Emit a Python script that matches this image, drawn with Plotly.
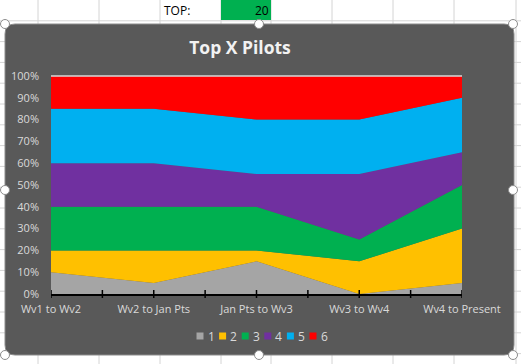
import plotly.graph_objects as go

# ---- data ----
categories = ["Wv1 to Wv2", "Wv2 to Jan Pts", "Jan Pts to Wv3", "Wv3 to Wv4", "Wv4 to Present"]
series_names = ["1", "2", "3", "4", "5", "6"]
s1 = [2, 1, 3, 0, 1]
s2 = [2, 3, 1, 3, 5]
s3 = [4, 4, 4, 2, 4]
s4 = [4, 4, 3, 6, 3]
s5 = [5, 5, 5, 5, 5]
s6 = [3, 3, 4, 4, 2]
series_values = [s1, s2, s3, s4, s5, s6]
colors = ["#A5A5A5", "#FFC000", "#00B050", "#7030A0", "#00B0F0", "#FF0000"]
y_ticks = [0, 10, 20, 30, 40, 50, 60, 70, 80, 90, 100]
y_tick_labels = ["0%", "10%", "20%", "30%", "40%", "50%", "60%", "70%", "80%", "90%", "100%"]
top_label = "TOP:"
top_value = "20"

W, H = 521, 364
L, R, T, B = 51, 59, 76, 70
PW, PH = W - L - R, H - T - B


def px(x):
    return (x - L) / PW


def py(y):
    return (H - B - y) / PH


fig = go.Figure()
xs = list(range(len(categories)))
for name, vals, col in zip(series_names, series_values, colors):
    fig.add_trace(go.Scatter(
        x=xs, y=vals, name=name, mode="lines",
        stackgroup="one", groupnorm="percent",
        line=dict(width=0, color=col), fillcolor=col,
        showlegend=False, hoverinfo="skip"))

shapes = []
annotations = []
# spreadsheet grid
for k in range(1, 18):
    y = 20.8 * k
    shapes.append(dict(type="line", xref="paper", yref="paper", x0=px(0), x1=px(W),
                       y0=py(y), y1=py(y), line=dict(color="#d4d4d4", width=1), layer="below"))
for x in [38, 99, 160, 221, 271, 332, 393, 454, 516]:
    shapes.append(dict(type="line", xref="paper", yref="paper", x0=px(x), x1=px(x),
                       y0=py(0), y1=py(H), line=dict(color="#d4d4d4", width=1), layer="below"))
# green cell
shapes.append(dict(type="rect", xref="paper", yref="paper", x0=px(221), x1=px(271),
                   y0=py(0), y1=py(20), fillcolor="#00B050", line=dict(width=0), layer="below"))
# chart area rounded rect
x0, x1, y0, y1, r = 5, 514, 24, 355, 10
path = (f"M {px(x0+r)},{py(y0)} L {px(x1-r)},{py(y0)} Q {px(x1)},{py(y0)} {px(x1)},{py(y0+r)} "
        f"L {px(x1)},{py(y1-r)} Q {px(x1)},{py(y1)} {px(x1-r)},{py(y1)} "
        f"L {px(x0+r)},{py(y1)} Q {px(x0)},{py(y1)} {px(x0)},{py(y1-r)} "
        f"L {px(x0)},{py(y0+r)} Q {px(x0)},{py(y0)} {px(x0+r)},{py(y0)} Z")
shapes.append(dict(type="path", xref="paper", yref="paper", path=path,
                   fillcolor="#595959", line=dict(color="#8c8c8c", width=1), layer="below"))
# 100% line
shapes.append(dict(type="line", xref="paper", yref="paper", x0=0, x1=1, y0=1, y1=1,
                   line=dict(color="#d9d9d9", width=1.5), layer="above"))
# cross-style tick marks on the category axis (both sides of the axis line)
for i in range(2 * (len(categories) - 1) + 1):
    shapes.append(dict(type="line", xref="x", yref="paper", x0=i / 2, x1=i / 2,
                       y0=py(290), y1=py(298), line=dict(color="black", width=1.5), layer="above"))
# legend (squares + labels)
for i, (name, col) in enumerate(zip(series_names, colors)):
    cx = 200 + i * 22.6
    shapes.append(dict(type="rect", xref="paper", yref="paper", x0=px(cx - 3.5), x1=px(cx + 3.5),
                       y0=py(339.5), y1=py(332.5), fillcolor=col, line=dict(width=0), layer="above"))
    annotations.append(dict(text=name, xref="paper", yref="paper", x=px(cx + 5.5), y=py(336),
                            xanchor="left", yanchor="middle", showarrow=False,
                            font=dict(family="Open Sans", size=12, color="#d9d9d9")))
# selection handles
for hx, hy in [(5, 24), (259, 24), (513, 24), (5, 190), (513, 190), (5, 355), (259, 355), (513, 355)]:
    rr = 4.5
    shapes.append(dict(type="circle", xref="paper", yref="paper",
                       x0=px(hx - rr), x1=px(hx + rr), y0=py(hy + rr), y1=py(hy - rr),
                       fillcolor="white", line=dict(color="#8c8c8c", width=1), layer="above"))

annotations += [
    dict(text=top_label, xref="paper", yref="paper", x=px(162), y=py(10), xanchor="left",
         yanchor="middle", showarrow=False, font=dict(family="Open Sans", size=12, color="black")),
    dict(text=top_value, xref="paper", yref="paper", x=px(271), y=py(10), xanchor="right",
         yanchor="middle", showarrow=False, font=dict(family="Open Sans", size=12, color="black")),
]

fig.update_layout(
    width=W, height=H,
    margin=dict(l=L, r=R, t=T, b=B, pad=0),
    paper_bgcolor="white", plot_bgcolor="rgba(0,0,0,0)",
    title=dict(text="<b>Top X Pilots</b>", x=px(240), xref="paper", xanchor="center",
               y=1 - 48 / H, yanchor="middle",
               font=dict(family="Open Sans", size=17.5, color="#f2f2f2")),
    shapes=shapes, annotations=annotations,
    showlegend=False,
    xaxis=dict(range=[0, len(categories) - 1], tickvals=xs, ticktext=categories,
               showgrid=False, zeroline=False, showline=True, linecolor="black", linewidth=1.5,
               ticks="outside", ticklen=4, tickcolor="rgba(0,0,0,0)",
               tickfont=dict(family="Open Sans", size=11, color="#d9d9d9")),
    yaxis=dict(range=[0, 100], tickvals=y_ticks, ticktext=y_tick_labels, showgrid=False,
               zeroline=False, showline=False, ticklabelstandoff=11,
               tickfont=dict(family="Open Sans", size=11, color="#d9d9d9")),
)

fig.write_html("out.html", config={"displayModeBar": False},
               post_script="document.body.style.margin='0';")
